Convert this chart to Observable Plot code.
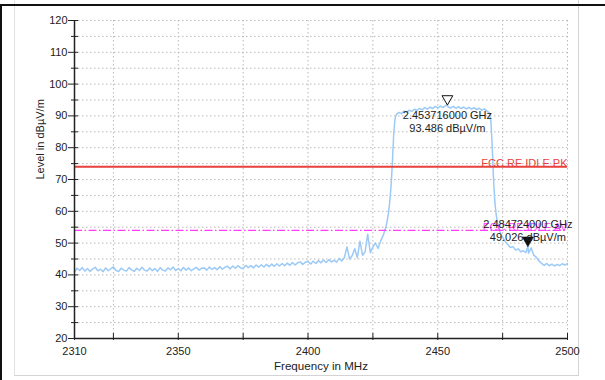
<!DOCTYPE html>
<html>
<head>
<meta charset="utf-8">
<script src="https://cdn.jsdelivr.net/npm/d3@7"></script>
<script src="https://cdn.jsdelivr.net/npm/@observablehq/plot@0.6"></script>
<style>
  html, body { margin: 0; padding: 0; background: #fff; }
  #wrap { position: relative; width: 605px; height: 380px; overflow: hidden; background: #fff; font-family: "Liberation Sans", Arial, sans-serif; }
  #chart { position: absolute; left: 0; top: 0; }
  #chart svg { overflow: visible; }
</style>
</head>
<body>
<div id="wrap">
  <div style="position:absolute;left:14px;top:0;width:563px;height:375px;border-left:1px solid #e2e2e2;border-right:1px solid #d4d4d4;border-bottom:1px solid #d4d4d4;"></div>
  <div style="position:absolute;left:0;top:4px;width:605px;height:2px;background:#111;"></div>
  <div style="position:absolute;left:0;top:4px;width:2px;height:376px;background:#111;"></div>
  <div id="chart"></div>
</div>
<script>
// ---- data ----
const freq = [
  2310,2311,2312,2313,2314,2315,2316,2317,2318,2319,
  2320,2321,2322,2323,2324,2325,2326,2327,2328,2329,
  2330,2331,2332,2333,2334,2335,2336,2337,2338,2339,
  2340,2341,2342,2343,2344,2345,2346,2347,2348,2349,
  2350,2351,2352,2353,2354,2355,2356,2357,2358,2359,
  2360,2361,2362,2363,2364,2365,2366,2367,2368,2369,
  2370,2371,2372,2373,2374,2375,2376,2377,2378,2379,
  2380,2381,2382,2383,2384,2385,2386,2387,2388,2389,
  2390,2391,2392,2393,2394,2395,2396,2397,2398,2399,
  2400,2401,2402,2403,2404,2405,2406,2407,2408,2409,
  2410,2411,2412,2413,2414,2415,2416,2417,2418,2419,
  2420,2421,2422,2423,2424,2425,2426,2427,2428,2429,
  2430,2430.5,2431,2431.5,2432,2432.5,2433,2433.5,
  2434,2435,2436,2437,2438,2439,2440,2441,2442,2443,
  2444,2445,2446,2447,2448,2449,2450,2451,2452,2453,
  2453.716,
  2454,2455,2456,2457,2458,2459,2460,2461,2462,2463,
  2464,2465,2466,2467,2468,2469,2470,
  2470.5,2471,2471.5,2472,2472.5,2473,
  2474,2475,2476,2477,2478,2479,2480,2481,2482,2483,2484,
  2484.724,
  2485,2486,2487,2488,2489,2490,2491,2492,2493,2494,
  2495,2496,2497,2498,2499,2500
];
const level = [
  41.0,42.1,41.4,42.3,41.2,42.0,41.1,41.9,42.4,41.3,
  41.8,41.0,42.2,41.3,42.0,42.5,41.4,41.1,42.1,41.5,
  41.2,42.3,41.6,41.1,42.1,41.4,42.4,41.5,41.2,42.2,
  41.3,42.0,41.1,42.3,41.5,41.2,42.2,41.6,42.5,41.4,
  42.0,41.3,42.3,41.5,42.2,41.3,41.9,42.4,41.5,42.1,
  42.2,41.5,42.5,41.7,42.3,41.6,42.6,41.8,42.4,42.7,
  41.9,42.8,42.1,42.9,42.2,42.0,43.0,42.3,42.9,42.2,
  43.1,42.4,43.2,42.5,43.3,42.6,43.4,42.7,43.5,42.8,
  43.6,42.9,43.7,43.0,43.9,43.1,43.8,44.1,43.3,44.0,
  44.2,43.4,44.3,43.6,44.5,43.8,44.7,43.9,44.8,44.1,
  44.6,44.0,45.2,44.4,45.4,48.8,45.0,46.0,48.2,45.4,
  50.6,46.2,47.3,52.8,47.0,48.8,50.0,48.3,50.7,52.5,
  55.0,57.0,59.5,63.0,68.0,75.0,84.0,89.0,
  90.4,91.1,90.7,91.5,91.1,91.8,91.4,92.1,91.7,92.4,
  91.9,92.6,92.1,92.8,92.3,93.0,92.5,93.1,92.6,93.2,
  93.486,
  92.8,92.5,93.0,92.4,92.9,92.3,92.8,92.2,92.7,92.1,
  92.6,92.0,92.4,91.8,92.2,91.5,90.8,
  88.0,80.0,70.0,63.0,59.0,56.5,
  53.5,51.8,50.5,49.5,48.6,48.9,47.8,48.2,47.3,47.6,47.0,
  49.026,
  46.8,48.5,46.2,45.5,44.4,43.6,43.0,43.6,42.9,43.4,
  42.8,43.3,42.9,43.5,43.1,43.6
];

const limitNames  = ["FCC RE IDLE PK", "FCC RE IDLE AV"];
const limitLevels = [74, 54];
const limitColors = ["#e8413c", "#ff3dff"];

const markerFreq   = [2453.716, 2484.724];
const markerLevel  = [93.486, 49.026];
const markerLabels = ["2.453716000 GHz\n93.486 dBµV/m", "2.484724000 GHz\n49.026 dBµV/m"];

const xLabelTicks = [2310, 2350, 2400, 2450, 2500];
const xAllTicks   = [2310, 2325, 2350, 2375, 2400, 2425, 2450, 2475, 2500];
const xGrid       = [2325, 2350, 2375, 2400, 2425, 2450, 2475, 2500];
const yLabelTicks = [20, 30, 40, 50, 60, 70, 80, 90, 100, 110, 120];
const yMinorTicks = [25, 35, 45, 55, 65, 75, 85, 95, 105, 115];
const yGrid       = [25, 30, 35, 40, 45, 50, 55, 60, 65, 70, 75, 80, 85, 90, 95, 100, 105, 110, 115, 120];

const trace = freq.map((f, i) => ({f, v: level[i]}));
const limits = limitNames.map((n, i) => ({name: n, v: limitLevels[i], c: limitColors[i]}));
const markers = markerFreq.map((f, i) => ({f, v: markerLevel[i], t: markerLabels[i]}));

const gridStyle = {stroke: "#b8b8b8", strokeWidth: 1, strokeDasharray: "1.5,2.5"};

const chart = Plot.plot({
  width: 605,
  height: 380,
  marginLeft: 74,
  marginRight: 38,
  marginTop: 20,
  marginBottom: 42,
  x: {domain: [2310, 2500]},
  y: {domain: [20, 120]},
  style: {background: "transparent", fontFamily: "'Liberation Sans', Arial, sans-serif", fontSize: "11px", color: "#222"},
  marks: [
    Plot.ruleY(yGrid, gridStyle),
    Plot.ruleX(xGrid, gridStyle),
    // trace
    Plot.line(trace, {x: "f", y: "v", stroke: "#9ccaf6", strokeWidth: 1.5}),
    // limit lines
    Plot.ruleY(limits.slice(0, 1), {y: "v", stroke: "c", strokeWidth: 2}),
    Plot.ruleY(limits.slice(1), {y: "v", stroke: "c", strokeWidth: 1.2, strokeDasharray: "8,2.5,1.5,2.5"}),
    Plot.text(limits, {x: () => 2500, y: "v", text: "name", fill: "c", textAnchor: "end", lineAnchor: "bottom", dy: 0.5, fontSize: 11}),
    // axes lines
    Plot.ruleX([2310], {stroke: "#222", strokeWidth: 1.5}),
    Plot.ruleY([20], {stroke: "#222", strokeWidth: 1.5}),
    // y ticks (crossing the axis)
    Plot.axisY({ticks: yLabelTicks, tickSize: 10, dx: 4, tickFormat: () => "", label: null, stroke: "#222"}),
    Plot.axisY({ticks: yMinorTicks, tickSize: 7, dx: 4, tickFormat: () => "", label: null, stroke: "#222"}),
    Plot.axisY({ticks: yLabelTicks, tickSize: 0, tickPadding: 7, label: null, fill: "#222", fontSize: 11}),
    // x ticks
    Plot.axisX({ticks: xAllTicks, tickSize: 7, dy: -5, tickFormat: () => "", label: null, stroke: "#222"}),
    Plot.axisX({ticks: xLabelTicks, tickSize: 0, tickPadding: 9, tickFormat: d => String(d), label: null, fill: "#222", fontSize: 11}),
    // axis titles
    Plot.text(["Frequency in MHz"], {frameAnchor: "bottom", dy: 31, fill: "#222", fontSize: 11.6}),
    Plot.text(["Level in dBµV/m"], {frameAnchor: "left", rotate: -90, dx: -34, fill: "#222", fontSize: 11}),
    // markers
    Plot.dot(markers.slice(0, 1), {x: "f", y: "v", symbol: "triangle", rotate: 180, r: 4, dy: -6, fill: "white", stroke: "#111", strokeWidth: 1}),
    Plot.dot(markers.slice(1), {x: "f", y: "v", symbol: "triangle", rotate: 180, r: 4.2, dy: -6, fill: "#111", stroke: "#111", strokeWidth: 0.5}),
    Plot.text(markers.slice(0, 1), {x: "f", y: "v", text: "t", lineAnchor: "top", dy: 5, lineHeight: 1.18, fill: "#222", fontSize: 11}),
    Plot.text(markers.slice(1), {x: "f", y: "v", text: "t", lineAnchor: "bottom", dy: -5, lineHeight: 1.18, fill: "#222", fontSize: 11})
  ]
});
document.getElementById("chart").appendChild(chart);
</script>
</body>
</html>
